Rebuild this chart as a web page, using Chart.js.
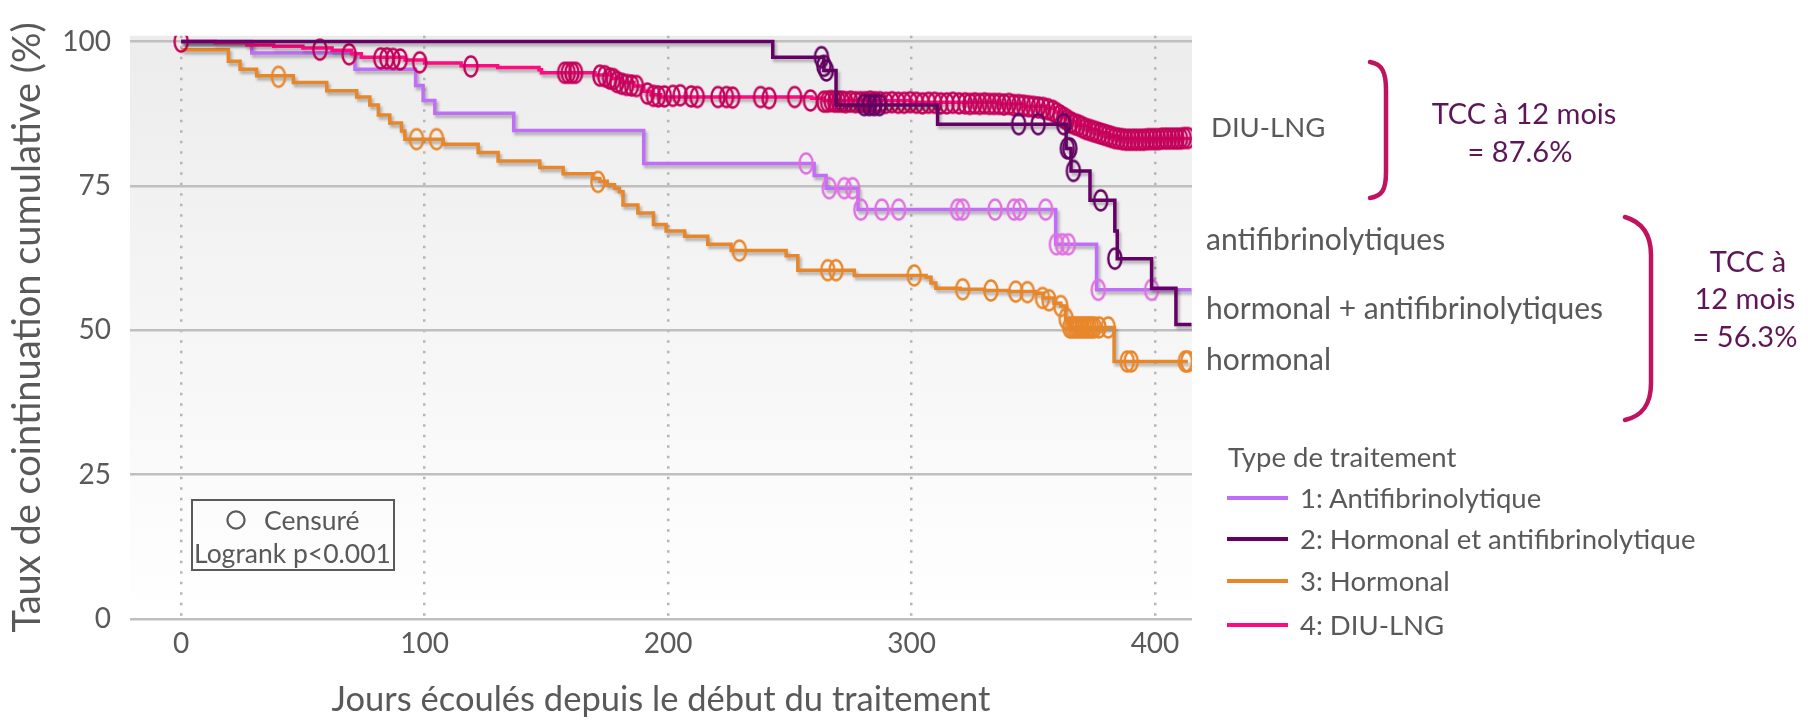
<!DOCTYPE html>
<html>
<head>
<meta charset="utf-8">
<script src="https://cdn.jsdelivr.net/npm/chart.js"></script>
<style>
  body { margin: 0; background: #fff; }
  #wrap { position: relative; width: 1808px; height: 721px; font-family: Lato, "Open Sans", sans-serif; }
  .lbl { position: absolute; white-space: nowrap; line-height: 1; transform: translateY(-50%); color: #595959; }
  .ctr { transform: translate(-50%, -50%); text-align: center; }
  .tcc { color: #5e1656; font-size: 29px; }
  .cl { font-size: 30px; }
  .lg { font-size: 27.5px; }
  .sw { position: absolute; width: 61px; height: 4px; }
  #box { position: absolute; left: 191px; top: 499px; width: 200px; height: 68px; border: 2px solid #5a5a5a; }
</style>
</head>
<body>
<div id="wrap">
  <canvas id="km" width="1808" height="721"></canvas>

  <svg width="1808" height="721" style="position:absolute;left:0;top:0;pointer-events:none">
    <path d="M1370,62 C1382,64 1386,72 1386,90 L1386,172 C1386,190 1382,196 1370,198" fill="none" stroke="#c0125f" stroke-width="4.5" stroke-linecap="round"/>
    <path d="M1625,217 C1642,222 1651,235 1651,255 L1651,383 C1651,405 1642,416 1625,420" fill="none" stroke="#c0125f" stroke-width="4.5" stroke-linecap="round"/>
    <circle cx="236" cy="520" r="8.6" fill="none" stroke="#5a5a5a" stroke-width="2.2"/>
  </svg>

  <div class="lbl" style="left:1211px;top:127px;font-size:27.5px">DIU-LNG</div>
  <div class="lbl cl" style="left:1206px;top:238px">antifibrinolytiques</div>
  <div class="lbl cl" style="left:1206px;top:307px">hormonal + antifibrinolytiques</div>
  <div class="lbl cl" style="left:1206px;top:358px">hormonal</div>

  <div class="lbl ctr tcc" style="left:1524px;top:112px">TCC à 12 mois</div>
  <div class="lbl ctr tcc" style="left:1520px;top:150px">= 87.6%</div>
  <div class="lbl ctr tcc" style="left:1748px;top:260px">TCC à</div>
  <div class="lbl ctr tcc" style="left:1745px;top:297px">12 mois</div>
  <div class="lbl ctr tcc" style="left:1745px;top:335px">= 56.3%</div>

  <div class="lbl lg" style="left:1228px;top:457px">Type de traitement</div>
  <div class="sw" style="left:1227px;top:496px;background:#c06efa"></div>
  <div class="lbl lg" style="left:1300px;top:498px">1: Antifibrinolytique</div>
  <div class="sw" style="left:1227px;top:537px;background:#660066"></div>
  <div class="lbl lg" style="left:1300px;top:539px">2: Hormonal et antifibrinolytique</div>
  <div class="sw" style="left:1227px;top:579px;background:#e8862a"></div>
  <div class="lbl lg" style="left:1300px;top:581px">3: Hormonal</div>
  <div class="sw" style="left:1227px;top:623px;background:#ff0a80"></div>
  <div class="lbl lg" style="left:1300px;top:625px">4: DIU-LNG</div>

  <div id="box"></div>
  <div class="lbl" style="left:264px;top:520px;font-size:26.5px">Censuré</div>
  <div class="lbl" style="left:194px;top:553px;font-size:26.5px">Logrank p&lt;0.001</div>
</div>

<script>
// tick labels
const xTicks = [0, 100, 200, 300, 400];
const yTicks = [0, 25, 50, 75, 100];

// [jours, %] - courbes (escaliers)
const antiCurve = [[0,100],[29,98.0],[71.4,95.2],[96.3,92.4],[99.4,89.8],[104.2,87.6],[136.6,84.6],[190,78.9],
  [260,76.8],[264.9,74.6],[278,70.9],[359.2,64.9],[376,57.0],[415,57.0]];
const antiCens = [[256.7,78.9],[266.2,74.6],[272.4,74.6],[275.8,74.6],[279.2,70.9],[287.8,70.9],[294.7,70.9],
  [318.9,70.9],[321,70.9],[334.3,70.9],[342.1,70.9],[344.5,70.9],[355.1,70.9],[359.5,64.9],[362,64.9],
  [364.4,64.9],[376.7,57.0],[398.6,57.0]];

const hormAntiCurve = [[0,100],[243,97.3],[264,95],[269,89],[310.7,85.7],[363.5,81.5],[365.5,77.6],[373.3,72.5],
  [383.5,67.2],[384.5,62.4],[398.6,57.3],[408.6,51],[415,51]];
const hormAntiCens = [[263,97.3],[264,95.8],[265,95],[280.6,89],[282.7,89],[284.7,89],[286.8,89],[344,85.7],
  [352,85.7],[362.5,85.7],[364,81.5],[365,81.5],[366.5,77.6],[377.7,72.5],[383.5,62.4]];

const hormCurve = [[0,98.6],[19.4,96.6],[24.2,95.2],[31,94.1],[46.1,92.9],[59.8,91.5],[72.1,90.4],[77.5,89.0],
  [81,87.3],[85.7,85.9],[90.5,84.5],[91.9,83.1],[107.6,82.2],[122,80.8],[130.2,79.3],[147.3,78.2],[156.9,77.1],
  [169,76.3],[172,75.8],[175,75.2],[178,74.6],[180,74],[181.5,71.7],[187.6,70.3],[194,68.3],[199.2,67.2],
  [206.8,66.3],[216.3,64.9],[225.9,63.8],[248.5,62.9],[253.3,60.4],[276.5,59.5],[306,59.2],[308,58.2],[310,57.3],
  [320,57.1],[330,56.9],[340,56.7],[351,56.4],[354,55.6],[358.5,54.7],[361.3,54.2],[363.3,51.9],[364.7,50.5],
  [383.2,44.6],[413.5,44.6]];
const hormCens = [[40,93.9],[96.7,83.1],[104.9,83.1],[171.2,75.7],[229.3,63.8],[265.6,60.4],[269,60.4],
  [301.1,59.5],[321,57.1],[332.6,56.9],[342.8,56.7],[347.6,56.6],[353.8,55.6],[356.5,55.2],[361.3,54.2],
  [363.5,52],[365,50.5],[366,50.5],[367,50.5],[368,50.5],[369,50.5],[370,50.5],[371,50.5],[372,50.5],
  [373,50.5],[374,50.5],[375,50.5],[377,50.5],[380.8,50.5],[388.6,44.6],[390.2,44.6],[412.5,44.6],[413.5,44.6]];

const diuCurve = [[0,100],[14,99.8],[27,99.4],[38,99.2],[50,98.9],[62,98.5],[70,97.9],[74,97.3],[92,96.8],
  [100,96.3],[115,95.8],[130,95.5],[147,95.1],[148,94.6],[170,94.2],[177,93.6],[181,92.9],[186,92.3],[190,91.4],
  [193,90.8],[197,90.4],[259,90.2],[264,89.8],[300,89.5],[336,89.2],[346,88.8],[355,88.4],[359,87.8],[362,87],
  [365,86.2],[369,85.5],[373,84.8],[377,84.2],[381,83.6],[385,83.2],[415,83.2]];
const diuCens = [[0,100],[57,98.6],[69,97.8],[82,97.1],[84.5,97.1],[87,97],[90,96.9],[98,96.4],[119,95.7],
  [157.5,94.6],[159,94.6],[160.5,94.6],[162,94.6],[172,94.1],[174,94],[176,93.6],[177.5,93.5],
  [179,93],[181,92.7],[183,92.5],[185,92.4],[187,92.3],[191.5,91],
  [194,90.6],[196,90.5],[198.5,90.5],[202,90.6],[205,90.7],[209.5,90.5],[212,90.4],
  [220.5,90.4],[224,90.4],[226.5,90.3],[238,90.4],[241.5,90.2],[252,90.4],[258.5,89.8],
  [264,89.6],[265.5,89.6],[267,89.7],[268.5,89.6],[270,89.6],[271.5,89.6],[273,89.5],[275,89.6],[277,89.5],
  [279,89.5],[281,89.5],[283,89.6],[285,89.5],[287,89.5],[289.5,89.4],[292,89.5],[294.5,89.4],[297,89.4],
  [299.5,89.5],[302,89.4],[304.5,89.3],[307,89.4],[309.5,89.4],[312,89.3],[314.5,89.3],[317,89.4],[319.5,89.3],
  [322,89.3],[324,89.2],[326,89.3],[328,89.2],[330,89.3],[332,89.2],[334,89.2],[336,89.2],[338,89.1],[340,89.2],
  [342,89],[344,89],[346,88.9],[348,88.8],[350,88.7],[352,88.6],[354,88.5],[356,88.3],[358,88],[359.5,87.6],
  [361,87.2],[362.5,86.8],[364,86.4],[365.5,86],[367,85.7],[368.5,85.5],[370,85.2],[371.5,84.9],[373,84.7],
  [374.5,84.5],[376,84.3],[377.5,84.1],[379,83.9],[380.5,83.7],[382,83.5],[383.5,83.3],[385,83.2],[386.5,83.1],
  [388,83],[389.5,83],[391,83],[392.5,83],[394,83],[395.5,83],[397,83.1],[398.5,83.1],[400,83.1],[401.5,83.1],
  [403,83.2],[404.5,83.2],[406,83.2],[407.5,83.2],[409,83.2],[410.5,83.2],[412,83.3],[413.5,83.3]];

const FONT = 'Lato';
const GREY = '#595959';

function xy(arr) { return arr.map(p => ({ x: p[0], y: p[1] })); }

// open ellipse marker for censored cases
function ring(color) {
  const c = document.createElement('canvas');
  c.width = 18; c.height = 25;
  const g = c.getContext('2d');
  g.strokeStyle = color;
  g.lineWidth = 2.4;
  g.beginPath();
  g.ellipse(9, 12.5, 6.6, 10, 0, 0, Math.PI * 2);
  g.stroke();
  return c;
}

function curve(data, color, order) {
  return { data: xy(data), borderColor: color, borderWidth: 3.5, stepped: true, pointRadius: 0,
           fill: false, order: order, shadow: true };
}
function cens(data, color, order) {
  return { data: xy(data), showLine: false, pointStyle: ring(color), pointRadius: 10,
           borderColor: color, order: order };
}

const bgPlugin = {
  id: 'bg',
  beforeDraw(chart) {
    const { ctx, chartArea: a } = chart;
    const gr = ctx.createLinearGradient(0, a.top, 0, a.bottom);
    gr.addColorStop(0, '#ececec');
    gr.addColorStop(1, '#ffffff');
    ctx.save();
    ctx.fillStyle = gr;
    ctx.fillRect(a.left, a.top, a.right - a.left, a.bottom - a.top);
    ctx.restore();
  }
};

const shadowPlugin = {
  id: 'shadow',
  beforeDatasetDraw(chart, args) {
    if (!chart.data.datasets[args.index].shadow) return;
    const c = chart.ctx;
    c.save();
    c.shadowColor = 'rgba(0,0,0,0.28)';
    c.shadowBlur = 3;
    c.shadowOffsetX = 2;
    c.shadowOffsetY = 3;
  },
  afterDatasetDraw(chart, args) {
    if (chart.data.datasets[args.index].shadow) chart.ctx.restore();
  }
};

new Chart(document.getElementById('km'), {
  type: 'line',
  data: {
    datasets: [
      cens(hormAntiCens, '#620062', 0),
      curve(hormAntiCurve, '#660066', 1),
      cens(diuCens, '#c4005a', 2),
      curve(diuCurve, '#ff0a80', 3),
      cens(antiCens, '#e070e0', 4),
      curve(antiCurve, '#c06efa', 5),
      cens(hormCens, '#e8862a', 6),
      curve(hormCurve, '#e8862a', 7)
    ]
  },
  options: {
    responsive: false,
    animation: false,
    layout: { padding: { left: 0, right: 616, top: 24, bottom: 0 } },
    plugins: { legend: { display: false }, tooltip: { enabled: false } },
    scales: {
      x: {
        type: 'linear', min: -21, max: 415.2,
        afterBuildTicks: s => { s.ticks = xTicks.map(v => ({ value: v })); },
        afterFit: s => { s.height = 102; },
        grid: { color: '#b5b5b5', lineWidth: 2.5, drawTicks: false },
        border: { display: false, dash: [2.5, 8] },
        ticks: { color: GREY, font: { family: FONT, size: 28 }, padding: 8 },
        title: { display: true, text: 'Jours écoulés depuis le début du traitement', color: GREY,
                 font: { family: FONT, size: 34.5 }, padding: { top: 0, bottom: 0 } }
      },
      y: {
        min: 0, max: 101,
        afterBuildTicks: s => { s.ticks = yTicks.map(v => ({ value: v })); },
        afterFit: s => { s.width = 130; },
        grid: { color: '#bfbfbf', lineWidth: 2.5, drawTicks: false },
        border: { display: false },
        ticks: { color: GREY, font: { family: FONT, size: 28 }, padding: 19 },
        title: { display: true, text: 'Taux de cointinuation cumulative (%)', color: GREY,
                 font: { family: FONT, size: 38 }, padding: { top: 5, bottom: 0 } }
      }
    }
  },
  plugins: [bgPlugin, shadowPlugin]
});
</script>
</body>
</html>
